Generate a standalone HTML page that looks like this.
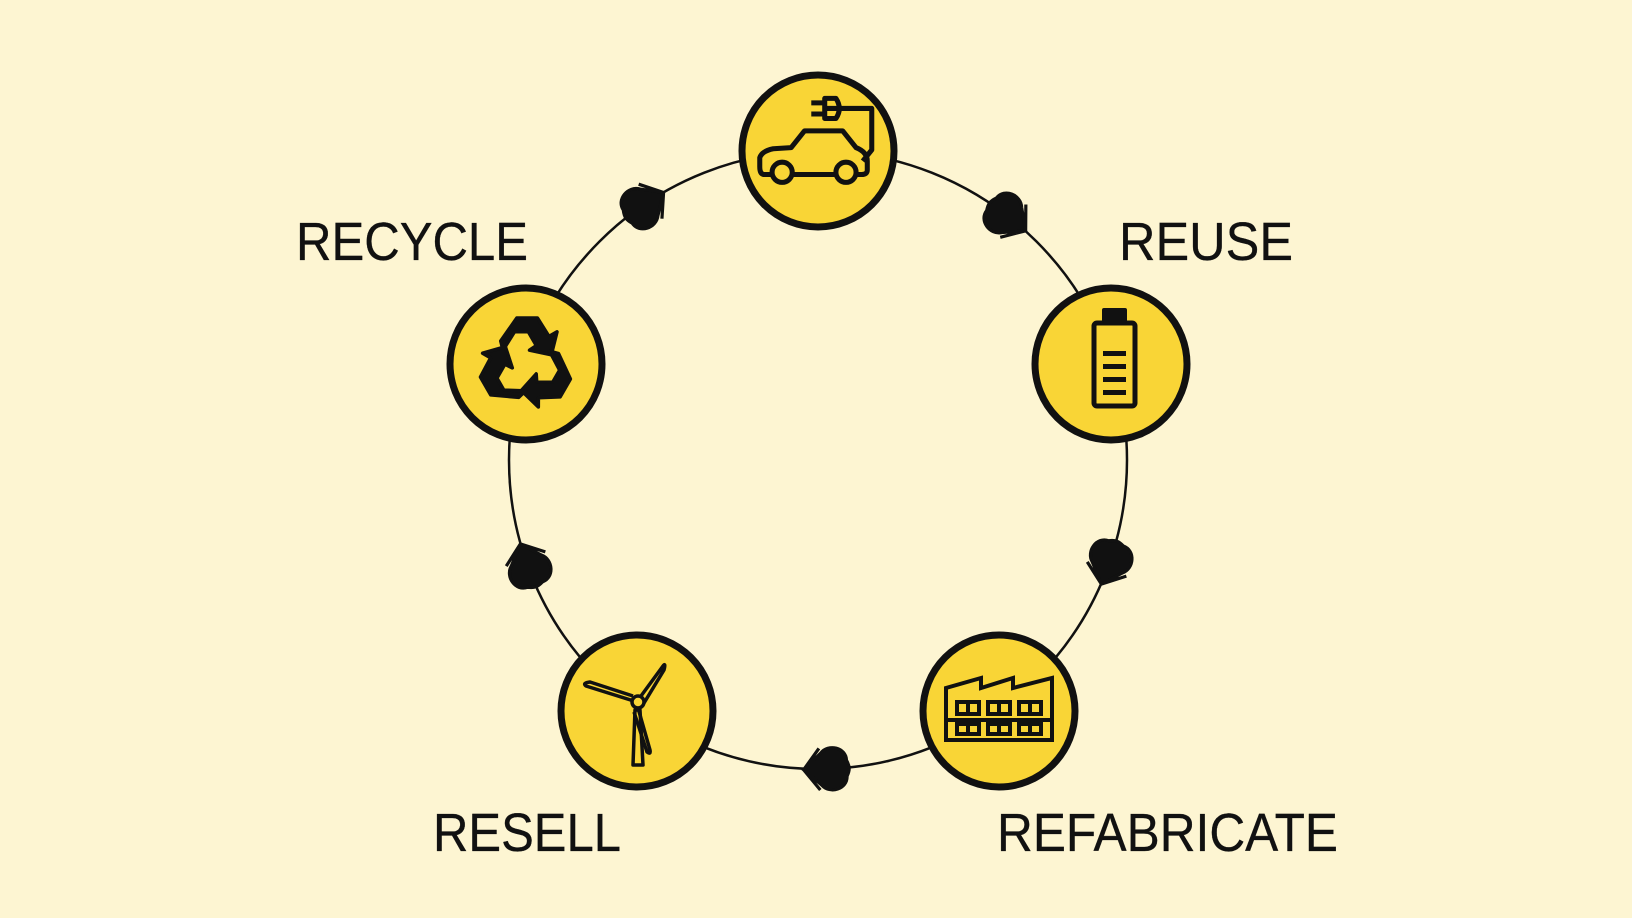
<!DOCTYPE html>
<html><head><meta charset="utf-8"><style>
html,body{margin:0;padding:0;background:#fdf5d2;}
svg{display:block}
text{font-family:"Liberation Sans",sans-serif;font-size:54px;fill:#111;stroke:#111;stroke-width:0.3;}
</style></head><body>
<svg width="1632" height="918" viewBox="0 0 1632 918" xmlns="http://www.w3.org/2000/svg">
<rect width="1632" height="918" fill="#fdf5d2"/>
<circle cx="818" cy="460" r="309" fill="none" stroke="#111" stroke-width="2.5"/>
<defs>
<path id="arr" d="M14,0 L3,-10 C-2,-16 -13,-13 -13,-5 C-15,-1 -15,1 -13,5 C-13,13 -2,16 3,10 Z M14,0 L4,-13 M14,0 L4,13" fill="#111" stroke="#111" stroke-width="2"/>
</defs>
<g transform="translate(645,205) rotate(-34) scale(1.6)"><use href="#arr"/></g>
<g transform="translate(1008,217) rotate(38) scale(1.6)"><use href="#arr"/></g>
<g transform="translate(1109,563) rotate(110) scale(1.6)"><use href="#arr"/></g>
<g transform="translate(826,769) rotate(178) scale(1.6)"><use href="#arr"/></g>
<g transform="translate(528,565) rotate(250) scale(1.6)"><use href="#arr"/></g>
<g fill="#f9d536" stroke="#111" stroke-width="7">
<circle cx="818" cy="151" r="76"/>
<circle cx="526" cy="364" r="76"/>
<circle cx="1111" cy="364" r="76"/>
<circle cx="637" cy="711" r="76"/>
<circle cx="999" cy="711" r="76"/>
</g>
<!-- car -->
<g fill="none" stroke="#111" stroke-width="4.5" stroke-linejoin="round" transform="translate(818,151) scale(1.12) translate(-818,-151)">
<path d="M770,172 Q766,172 766,165 L766,157 Q768,151 778,149 L794,148 L806,133 L840,133 L852,148 Q862,152 862,160 L862,168 Q862,172 857,172 Z"/>
<circle cx="786" cy="170" r="9" fill="#f9d536"/>
<circle cx="843" cy="170" r="9" fill="#f9d536"/>
<path d="M824,113 L866,113 L866,150 L858,160"/>
<path d="M824,104 L834,104 Q840,113 834,122 L824,122 Z M824,104 L824,122 M812,108 L824,108 M812,118 L824,118"/>
</g>
<!-- battery -->
<g stroke="#111" fill="none" stroke-width="5">
<rect x="1094" y="323" width="41" height="83" rx="3"/>
</g>
<g fill="#111">
<rect x="1102" y="308" width="25" height="15" rx="2"/>
<rect x="1103" y="351" width="23" height="5"/>
<rect x="1103" y="364" width="23" height="5"/>
<rect x="1103" y="377" width="23" height="5"/>
<rect x="1103" y="390" width="23" height="5"/>
</g>
<!-- recycle -->
<g fill="#111" stroke="#111" stroke-width="3" stroke-linejoin="round" transform="translate(526,364) scale(1.15)">
<g id="rc"><path d="M-22,-20 L-8,-40 L10,-40 L20,-24 L27,-28 L22,-8 L3,-12 L9,-16 L2,-28 L-10,-28 L-20,-12 Z"/></g>
<use href="#rc" transform="rotate(120)"/>
<use href="#rc" transform="rotate(240)"/>
</g>
<!-- turbine -->
<g fill="none" stroke="#111" stroke-width="3.5" stroke-linejoin="round">
<path d="M633,765 L635,710 L640,710 L643,765 Z"/>
<path d="M637,702 L586,686 Q582,683 590,682 L633,696"/>
<path d="M641,696 L663,666 Q666,662 664,670 L644,703"/>
<path d="M638,708 L650,750 Q651,755 647,752 L634,712"/>
<circle cx="638" cy="702" r="6" fill="#f9d536"/>
</g>
<!-- factory -->
<g fill="none" stroke="#111" stroke-width="4" stroke-linejoin="miter">
<path d="M946,740 L946,688 L981,678 L981,688 L1013,678 L1013,688 L1052,678 L1052,740 Z"/>
<path d="M946,720 L1052,720"/>
<rect x="957" y="702" width="22" height="12"/><path d="M968,702 L968,714"/>
<rect x="988" y="702" width="22" height="12"/><path d="M999,702 L999,714"/>
<rect x="1019" y="702" width="22" height="12"/><path d="M1030,702 L1030,714"/>
<rect x="957" y="724" width="22" height="10"/><path d="M968,724 L968,734"/>
<rect x="988" y="724" width="22" height="10"/><path d="M999,724 L999,734"/>
<rect x="1019" y="724" width="22" height="10"/><path d="M1030,724 L1030,734"/>
</g>
<text x="296" y="260" textLength="232" lengthAdjust="spacingAndGlyphs">RECYCLE</text>
<text x="1119" y="260" textLength="174" lengthAdjust="spacingAndGlyphs">REUSE</text>
<text x="433" y="851" textLength="188" lengthAdjust="spacingAndGlyphs">RESELL</text>
<text x="997" y="851" textLength="341" lengthAdjust="spacingAndGlyphs">REFABRICATE</text>
</svg>
</body></html>
